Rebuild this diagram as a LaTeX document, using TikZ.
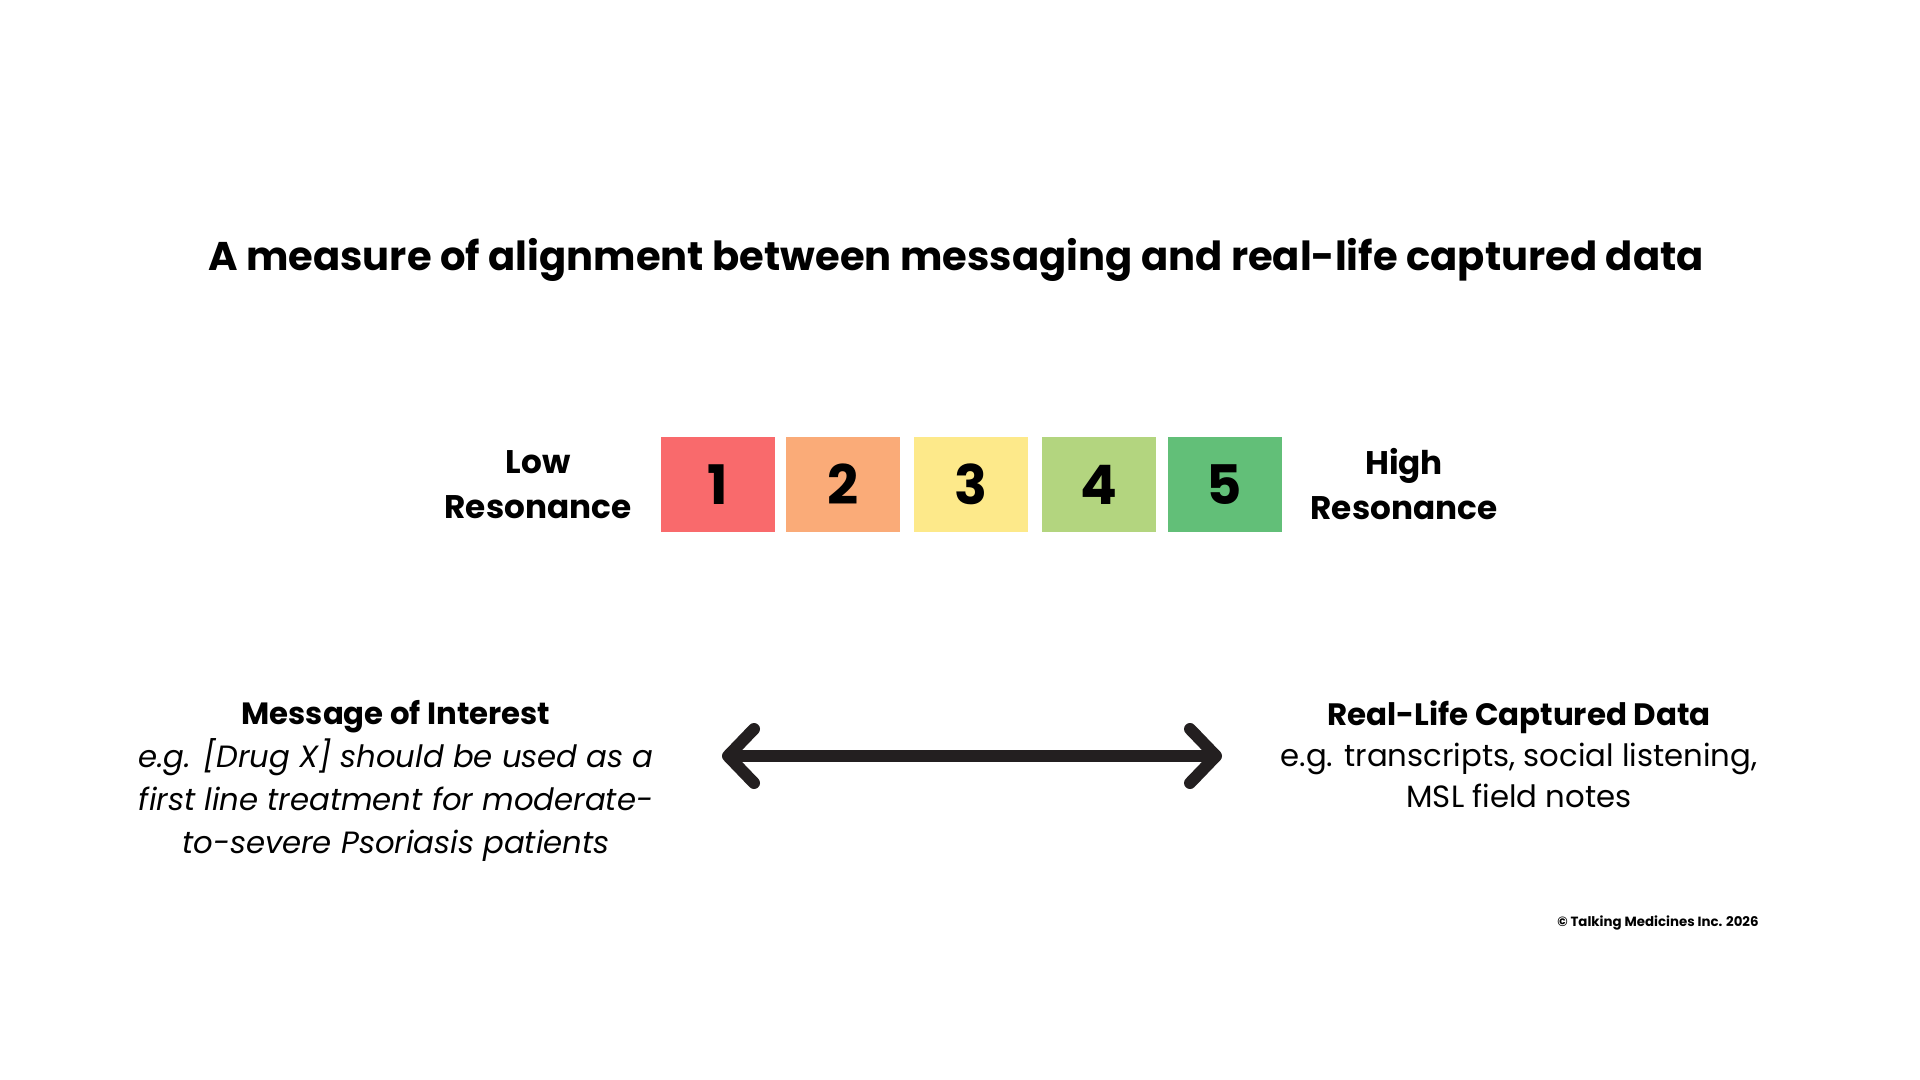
\documentclass[tikz,border=0pt]{standalone}
\usepackage{fontspec}
\setmainfont{Poppins}
\usetikzlibrary{arrows.meta}
\definecolor{c1}{HTML}{F96A6C}
\definecolor{c2}{HTML}{FAAB78}
\definecolor{c3}{HTML}{FDE98A}
\definecolor{c4}{HTML}{B3D57F}
\definecolor{c5}{HTML}{62BF78}
\definecolor{ink}{HTML}{231F20}
\begin{document}
\begin{tikzpicture}[x=1cm,y=-1cm,
  box/.style={minimum width=1.14cm,minimum height=0.95cm,inner sep=0pt,font=\fontsize{15.5}{15}\selectfont\bfseries},
  lab/.style={align=center,font=\fontsize{9.3}{12.8}\selectfont\bfseries},
  body/.style={align=center,font=\fontsize{8.75}{12.3}\selectfont}]
\useasboundingbox[fill=white] (0,0) rectangle (19.2,10.8);
\node[font=\fontsize{11.4}{12}\selectfont\bfseries] (title) at (9.56,2.60) {A measure of alignment between messaging and real-life captured data};
\node[box,fill=c1] (b1) at (7.175,4.845) {1};
\node[box,fill=c2] (b2) at (8.433,4.845) {2};
\node[box,fill=c3] (b3) at (9.71,4.845) {3};
\node[box,fill=c4] (b4) at (10.99,4.845) {4};
\node[box,fill=c5] (b5) at (12.246,4.845) {5};
\node[lab] (low) at (5.38,4.85) {Low\\Resonance};
\node[lab] (high) at (14.04,4.84) {High\\Resonance};
\coordinate (al) at (7.22,7.56);
\coordinate (ar) at (12.22,7.56);
\draw[ink,line width=0.12cm,{Straight Barb[length=0.26cm,width=0.54cm,line cap=round,line join=round]}-{Straight Barb[length=0.26cm,width=0.54cm,line cap=round,line join=round]}] (al) -- (ar);
\node[body] (left) at (3.96,7.81) {{\bfseries\fontsize{8.75}{12}\selectfont Message of Interest}\\\itshape e.g. [Drug X] should be used as a\\\itshape first line treatment for moderate-\\\itshape to-severe Psoriasis patients};
\node[body,font=\fontsize{8.75}{11.7}\selectfont] (right) at (15.19,7.54) {{\bfseries\fontsize{8.8}{12}\selectfont Real-Life Captured Data}\\e.g. transcripts, social listening,\\MSL field notes};
\node[anchor=east,font=\fontsize{3.8}{4}\selectfont\bfseries] (copy) at (17.71,9.23) {© Talking Medicines Inc. 2026};
\end{tikzpicture}
\end{document}
